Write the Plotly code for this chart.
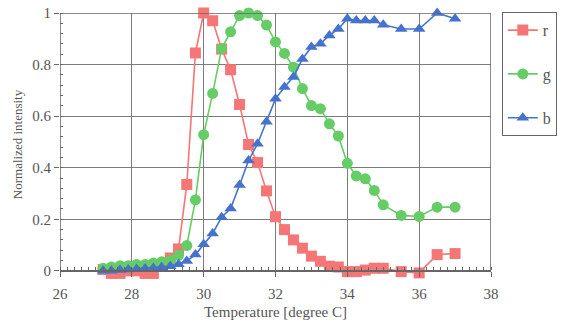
import plotly.graph_objects as go

temperature = [27.2, 27.43, 27.67, 27.9, 28.13, 28.37, 28.6, 28.83, 29.07, 29.3, 29.53, 29.77, 30.0,
               30.25, 30.5, 30.75, 31.0, 31.25, 31.5, 31.75, 32.0, 32.25, 32.5, 32.75, 33.0,
               33.25, 33.5, 33.75, 34.0, 34.25, 34.5, 34.75, 35.0, 35.5, 36.0, 36.5, 37.0]

r_values = [0.005, -0.01, -0.01, 0.0, 0.0, -0.01, -0.01, 0.02, 0.05, 0.085, 0.335, 0.845, 1.0,
            0.97, 0.86, 0.78, 0.645, 0.49, 0.42, 0.31, 0.21, 0.16, 0.12, 0.088, 0.057,
            0.037, 0.018, 0.015, -0.003, -0.003, 0.003, 0.01, 0.01, -0.003, -0.008, 0.063, 0.067]

g_values = [0.01, 0.015, 0.02, 0.02, 0.025, 0.025, 0.03, 0.035, 0.04, 0.06, 0.098, 0.275, 0.528,
            0.688, 0.862, 0.927, 0.99, 1.0, 0.99, 0.953, 0.888, 0.843, 0.79, 0.707, 0.641,
            0.629, 0.57, 0.523, 0.417, 0.368, 0.357, 0.312, 0.256, 0.215, 0.211, 0.247, 0.247]

b_values = [0.0, 0.0, 0.003, 0.005, 0.007, 0.009, 0.011, 0.014, 0.018, 0.026, 0.038, 0.063, 0.103,
            0.145, 0.208, 0.242, 0.333, 0.428, 0.493, 0.578, 0.667, 0.713, 0.752, 0.822, 0.868,
            0.881, 0.913, 0.938, 0.978, 0.971, 0.971, 0.971, 0.954, 0.938, 0.938, 1.0, 0.978]

x_ticks = [26, 28, 30, 32, 34, 36, 38]
y_ticks = [0, 0.2, 0.4, 0.6, 0.8, 1]
y_tick_text = ["0", "0.2", "0.4", "0.6", "0.8", "1"]

series = [
    ("r", r_values, "#f47676", "square"),
    ("g", g_values, "#66cc66", "circle"),
    ("b", b_values, "#4472cc", "triangle-up"),
]

y_min = -0.02
y_max = 1.0
zero_pos = (0 - y_min) / (y_max - y_min)

fig = go.Figure()
for name, vals, color, sym in series:
    fig.add_trace(go.Scatter(
        x=temperature, y=vals, name=name, mode="lines+markers",
        line=dict(color=color, width=1.6),
        marker=dict(symbol=sym, size=11, color=color),
        cliponaxis=False, legendgroup=name,
    ))

font_family = "Liberation Serif"
axis_color = "#666666"
text_color = "#555555"
grid_color = "#7c7c7c"

# plot frame (x from 26 to 38, y from 0 to 1)
fig.add_shape(type="rect", xref="x", yref="y", x0=x_ticks[0], x1=x_ticks[-1], y0=0, y1=y_max,
              line=dict(color=axis_color, width=1.5), layer="above")

fig.update_layout(
    width=573, height=325,
    margin=dict(l=60, r=82, t=13, b=49, autoexpand=False),
    paper_bgcolor="white", plot_bgcolor="white",
    font=dict(family=font_family, size=15, color=text_color),
    showlegend=True,
    legend=dict(
        x=1.025, xanchor="left", y=1.003, yanchor="top",
        bordercolor="#666666", borderwidth=1,
        font=dict(family=font_family, size=16, color=text_color),
        tracegroupgap=20, itemwidth=30,
        entrywidth=80, entrywidthmode="pixels",
    ),
    xaxis=dict(
        range=[x_ticks[0], x_ticks[-1]], tickvals=x_ticks,
        anchor="free", position=zero_pos, automargin=False,
        showgrid=True, gridcolor=grid_color, gridwidth=1.2,
        showline=True, linecolor=axis_color, linewidth=1.5,
        ticks="outside", ticklen=5, tickcolor=axis_color,
        tickfont=dict(family=font_family, size=15, color=text_color),
        ticklabelstandoff=4,
        minor=dict(dtick=0.2, ticks="inside", ticklen=3, tickcolor=axis_color, showgrid=False),
        zeroline=False,
        title=dict(text="Temperature [degree C]", font=dict(family=font_family, size=15, color=text_color), standoff=5),
    ),
    yaxis=dict(
        range=[y_min, y_max], tickvals=y_ticks, ticktext=y_tick_text, automargin=False,
        showgrid=True, gridcolor=grid_color, gridwidth=1.2,
        showline=False,
        ticks="outside", ticklen=5, tickcolor=axis_color,
        tickfont=dict(family=font_family, size=15, color=text_color),
        minor=dict(dtick=0.04, tick0=0, ticks="inside", ticklen=3, tickcolor=axis_color, showgrid=False),
        zeroline=False,
        title=dict(text="Normalized intensity", font=dict(family=font_family, size=13, color=text_color), standoff=6),
    ),
)

fig.write_html("out.html")
